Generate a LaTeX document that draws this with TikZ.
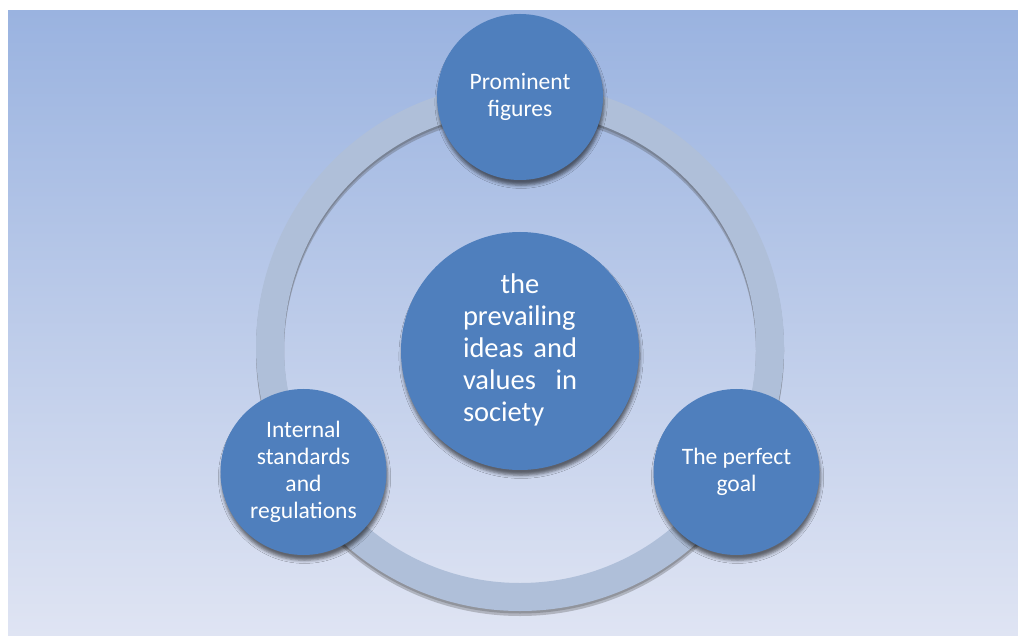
\documentclass[tikz,border=0pt]{standalone}
\usepackage{fontspec}
\setmainfont{Carlito}
\usetikzlibrary{shadows.blur}
\definecolor{bghigh}{HTML}{9AB3E0}
\definecolor{bglow}{HTML}{DFE4F3}
\definecolor{ringcol}{HTML}{AFBFD9}
\definecolor{bubblecol}{HTML}{4F7FBD}
\tikzset{
    bubble/.style={circle, fill=bubblecol, text=white, inner sep=0pt, align=center,
        font=\fontsize{13.4}{15.4}\selectfont,
        blur shadow={shadow xshift=0.6pt, shadow yshift=-3pt, shadow blur radius=1.8pt, shadow opacity=55}},
    ring/.style={line width=0.56cm, draw=ringcol}
}

\begin{document}
\begin{tikzpicture}
    \useasboundingbox (0,0) rectangle (20.36,12.7);

    % Fond en degrade
    \shade[top color=bghigh, bottom color=bglow] (0.16,0) rectangle (20.36,12.48);

    % Centre de l'anneau
    \coordinate (O) at (10.4,5.76);

    % Anneau avec son ombre
    \draw[line width=0.56cm, black!70, opacity=0.3] ([yshift=-0.1cm]O) circle (5);
    \draw[line width=0.56cm, black!70, opacity=0.3] ([yshift=-0.05cm]O) circle (5);
    \draw[ring] (O) circle (5);

    % Bulle centrale
    \node[bubble, minimum size=4.76cm, font=\fontsize{16.2}{18.2}\selectfont] (centre) at ([yshift=-0.08cm]O)
        {\begin{tabular}{@{}p{2.28cm}@{}}
            \hspace*{\fill}the\hspace*{\fill}\\
            prevailing\\
            ideas\hfill and\\
            values\hfill in\\
            society
        \end{tabular}};

    % Bulles sur l'anneau
    \node[bubble, minimum size=3.32cm] (figures) at ([shift={(90:5)}]O) {Prominent\\figures};
    \node[bubble, minimum size=3.32cm] (standards) at ([shift={(210:5)}]O) {Internal\\standards\\and\\regulations};
    \node[bubble, minimum size=3.32cm] (goal) at ([shift={(330:5)}]O) {The perfect\\goal};
\end{tikzpicture}
\end{document}
